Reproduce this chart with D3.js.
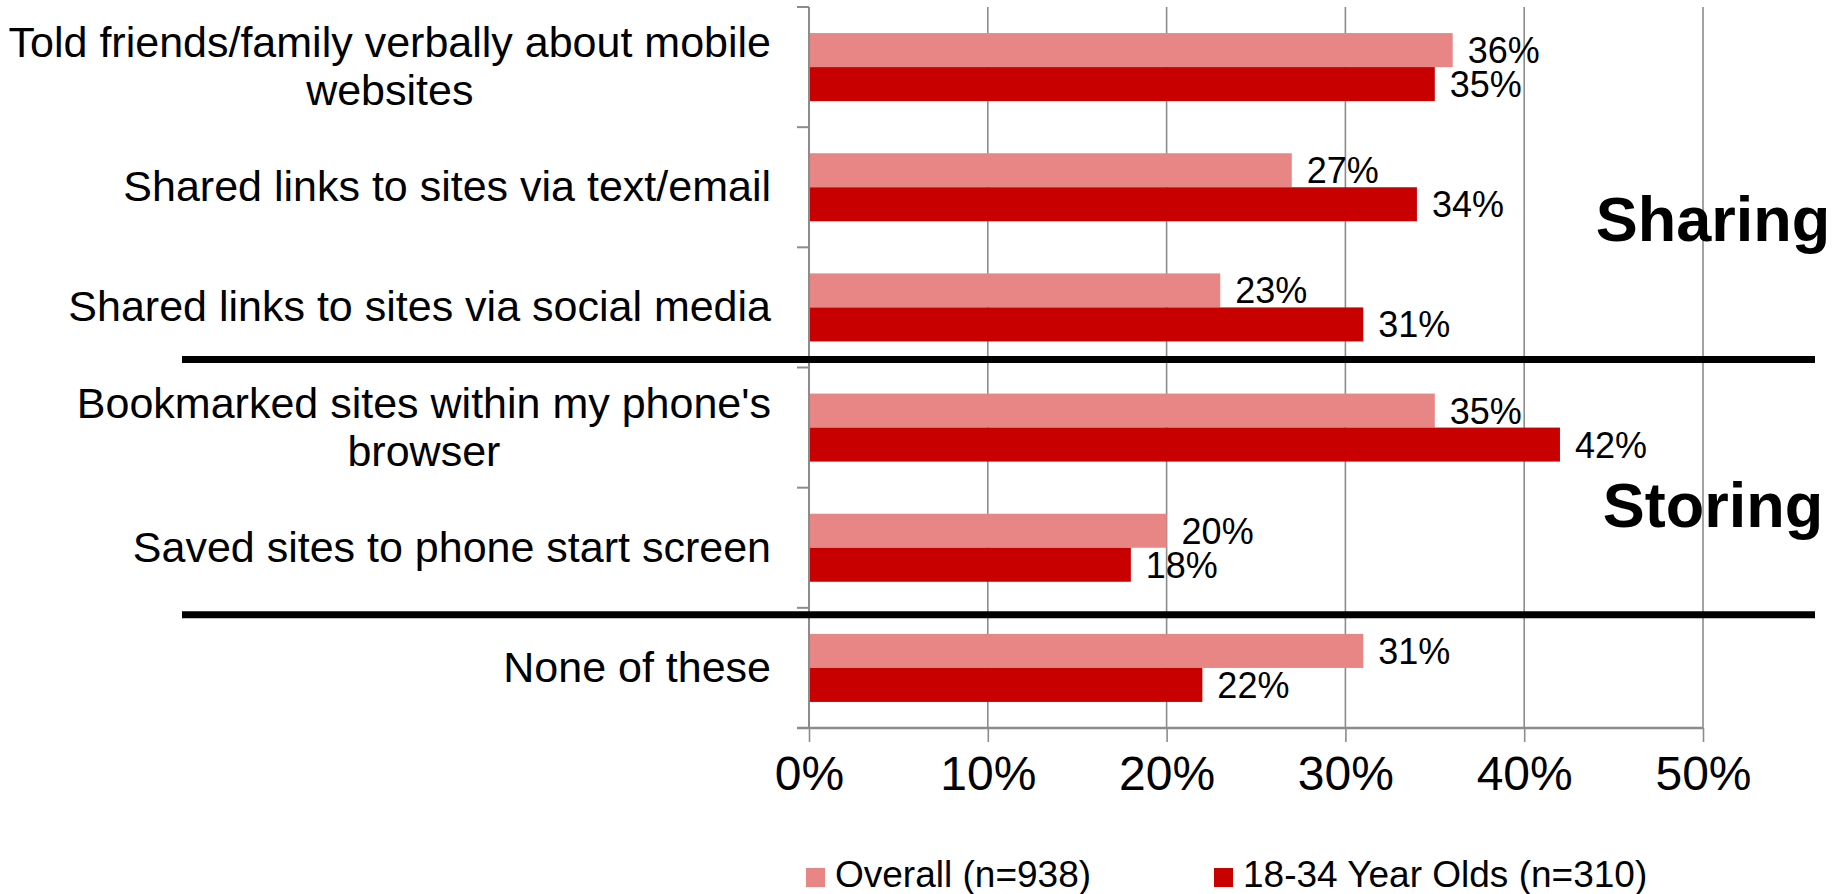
<!DOCTYPE html>
<html>
<head>
<meta charset="utf-8">
<script src="https://cdn.jsdelivr.net/npm/d3@7/dist/d3.min.js"></script>
<style>
  html, body { margin: 0; padding: 0; background: #fff; }
  svg { display: block; font-family: "Liberation Sans", Arial, sans-serif; }
</style>
</head>
<body>
<svg id="chart" width="1843" height="894"></svg>
<script>
// Mobile website sharing / storing behaviour, by respondent group
const categories = [
  "Told friends/family verbally about mobile websites",
  "Shared links to sites via text/email",
  "Shared links to sites via social media",
  "Bookmarked sites within my phone's browser",
  "Saved sites to phone start screen",
  "None of these"
];
const seriesNames = ["Overall (n=938)", "18-34 Year Olds (n=310)"];
const overall = [0.36, 0.27, 0.23, 0.35, 0.20, 0.31];
const young = [0.35, 0.34, 0.31, 0.42, 0.18, 0.22];
const xTicks = [0, 0.1, 0.2, 0.3, 0.4, 0.5];
const groupNames = ["Sharing", "Storing"];

const colors = ["#e88585", "#c80000"];
const gridColor = "#8c8c8c";

const svg = d3.select("#chart");

const plot = { left: 809, right: 1703, top: 7, bottom: 728 };

const x = d3.scaleLinear().domain([0, 0.5]).range([plot.left, plot.right]);
const y = d3.scaleBand()
  .domain(categories)
  .range([plot.top, plot.bottom])
  .paddingInner(0.434)
  .paddingOuter(0.217);
const sub = d3.scaleBand().domain(seriesNames).range([0, y.bandwidth()]);
const step = y.step();
const boundary = i => plot.top + i * step;

// vertical gridlines
svg.append("g").selectAll("line")
  .data(xTicks.slice(1))
  .join("line")
  .attr("x1", d => x(d)).attr("x2", d => x(d))
  .attr("y1", plot.top).attr("y2", plot.bottom)
  .attr("stroke", gridColor).attr("stroke-width", 1.6);

// bars and their value labels
const series = [overall, young];
series.forEach((vals, si) => {
  svg.append("g").selectAll("rect")
    .data(categories)
    .join("rect")
    .attr("x", x(0) + 1)
    .attr("y", (c) => y(c) + sub(seriesNames[si]))
    .attr("width", (c, i) => x(vals[i]) - x(0) - 1)
    .attr("height", sub.bandwidth())
    .attr("fill", colors[si]);

  svg.append("g").selectAll("text")
    .data(categories)
    .join("text")
    .attr("x", (c, i) => x(vals[i]) + 15)
    .attr("y", c => y(c) + sub(seriesNames[si]) + sub.bandwidth() / 2)
    .attr("dy", "0.36em")
    .attr("font-size", 36)
    .attr("fill", "#000")
    .text((c, i) => d3.format(".0%")(vals[i]));
});

// x axis
const xAxis = d3.axisBottom(x)
  .tickValues(xTicks)
  .tickFormat(d3.format(".0%"))
  .tickSize(14)
  .tickSizeOuter(0)
  .tickPadding(12);
const gx = svg.append("g")
  .attr("transform", `translate(0,${plot.bottom})`)
  .call(xAxis);
gx.select(".domain").remove();
gx.selectAll(".tick line").attr("stroke", gridColor).attr("stroke-width", 1.6);
gx.selectAll(".tick text")
  .attr("font-size", 48)
  .attr("font-family", "Liberation Sans, Arial, sans-serif")
  .attr("fill", "#000")
  .attr("dy", "0.74em");
gx.append("line")
  .attr("x1", plot.left - 12).attr("x2", plot.right)
  .attr("y1", 0).attr("y2", 0)
  .attr("stroke", gridColor).attr("stroke-width", 2.5);

// y axis line with ticks at category boundaries
svg.append("line")
  .attr("x1", plot.left).attr("x2", plot.left)
  .attr("y1", plot.top).attr("y2", plot.bottom)
  .attr("stroke", gridColor).attr("stroke-width", 2);
svg.append("g").selectAll("line")
  .data(d3.range(categories.length))
  .join("line")
  .attr("x1", plot.left - 12).attr("x2", plot.left)
  .attr("y1", i => boundary(i)).attr("y2", i => boundary(i))
  .attr("stroke", gridColor).attr("stroke-width", 2);

// category labels, wrapped and centred as a right-aligned block
const labelFont = 43, lineH = 48, labelRight = 771, maxW = 785;
const measure = svg.append("text").attr("font-size", labelFont).attr("visibility", "hidden");
function textWidth(s) { measure.text(s); return measure.node().getComputedTextLength(); }
categories.forEach(c => {
  const words = c.split(" ");
  const lines = [];
  let cur = "";
  words.forEach(w => {
    const trial = cur ? cur + " " + w : w;
    if (cur && textWidth(trial) > maxW) { lines.push(cur); cur = w; }
    else cur = trial;
  });
  lines.push(cur);
  const blockW = d3.max(lines, textWidth);
  const cx = labelRight - blockW / 2;
  const cy = y(c) + y.bandwidth() / 2;
  const t = svg.append("text")
    .attr("font-size", labelFont)
    .attr("text-anchor", "middle")
    .attr("fill", "#000");
  lines.forEach((ln, i) => {
    t.append("tspan")
      .attr("x", cx)
      .attr("y", cy + 14 + (i - (lines.length - 1) / 2) * lineH)
      .text(ln);
  });
});
measure.remove();

// group separators
const separators = [boundary(3) - 8, boundary(5) + 7];
svg.append("g").selectAll("line")
  .data(separators)
  .join("line")
  .attr("x1", 182).attr("x2", 1815)
  .attr("y1", d => d).attr("y2", d => d)
  .attr("stroke", "#000").attr("stroke-width", 7);

// group labels
svg.append("g").selectAll("text")
  .data(groupNames)
  .join("text")
  .attr("x", 1713)
  .attr("y", (d, i) => i === 0 ? boundary(2) - 6 : boundary(4) + 39)
  .attr("text-anchor", "middle")
  .attr("font-size", 63)
  .attr("font-weight", "bold")
  .attr("fill", "#000")
  .text(d => d);

// legend
const legendX = [806, 1214];
const lg = svg.append("g").selectAll("g")
  .data(seriesNames)
  .join("g")
  .attr("transform", (d, i) => `translate(${legendX[i]},868)`);
lg.append("rect")
  .attr("width", 19).attr("height", 19)
  .attr("fill", (d, i) => colors[i]);
lg.append("text")
  .attr("x", 29).attr("y", 19)
  .attr("font-size", 37)
  .attr("fill", "#000")
  .text(d => d);
</script>
</body>
</html>
